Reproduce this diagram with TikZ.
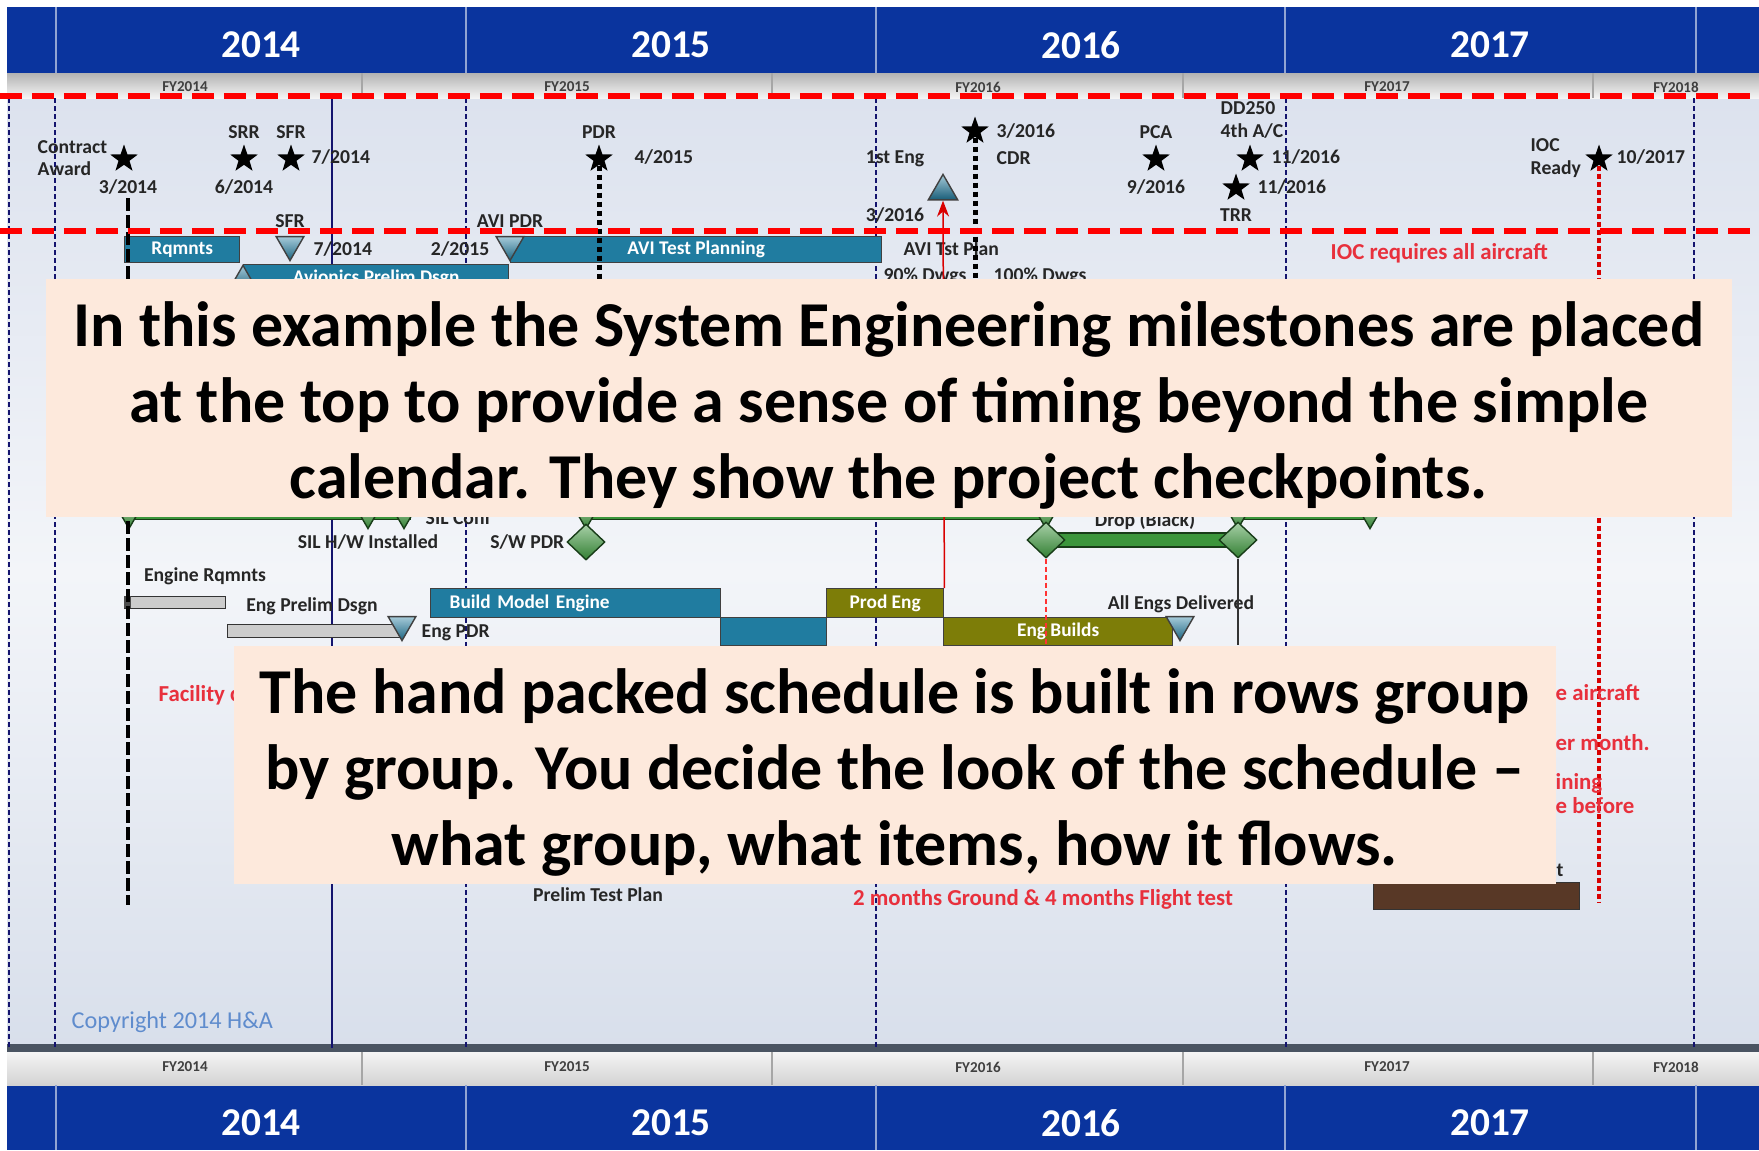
\documentclass[tikz,border=0pt]{standalone}
\usepackage{fontspec}
\setmainfont{Carlito}
\usetikzlibrary{shapes.geometric,arrows.meta,positioning}

\definecolor{plblue}{RGB}{10,52,158}
\definecolor{plnavy}{RGB}{20,20,110}
\definecolor{plteal}{RGB}{32,124,160}
\definecolor{plolive}{RGB}{125,125,8}
\definecolor{plgreen}{RGB}{60,150,60}
\definecolor{plbrown}{RGB}{88,56,38}
\definecolor{plpeach}{RGB}{253,233,220}
\definecolor{plred}{RGB}{232,48,60}
\definecolor{plcopy}{RGB}{95,140,205}
\definecolor{plbgtop}{RGB}{220,226,238}
\definecolor{plbgmid}{RGB}{243,245,249}
\definecolor{plbgbot}{RGB}{216,223,235}
\definecolor{plbar}{RGB}{74,84,98}

\tikzset{
  lbl/.style={font=\fontsize{5.6}{6.4}\selectfont\bfseries, text=black!85, inner sep=0.3mm},
  redlbl/.style={font=\fontsize{6.5}{7}\selectfont\bfseries, text=plred, inner sep=0.3mm},
  yearlbl/.style={font=\fontsize{11.2}{12}\selectfont\bfseries, text=white},
  fylbl/.style={font=\fontsize{4.3}{5}\selectfont\bfseries, text=black!75},
  copylbl/.style={font=\fontsize{6.9}{8}\selectfont, text=plcopy, inner sep=0pt},
  msstar/.style={star, star points=5, star point ratio=2.5, fill=black, minimum size=2.9mm, inner sep=0pt},
  tridown/.style={regular polygon, regular polygon sides=3, shape border rotate=180, minimum size=3.2mm, inner sep=0pt, anchor=corner 1, draw=black!75, top color=plteal!40!white, bottom color=plteal!80!black},
  triup/.style={regular polygon, regular polygon sides=3, minimum size=3.4mm, inner sep=0pt, anchor=corner 1, draw=black!75, top color=plteal!40!white, bottom color=plteal!75!black},
  grtri/.style={regular polygon, regular polygon sides=3, shape border rotate=180, minimum size=3.2mm, inner sep=0pt, anchor=corner 1, draw=plgreen!40!black, top color=plgreen!50!white, bottom color=plgreen!85!black},
  grdiamond/.style={diamond, minimum width=3.8mm, minimum height=3.6mm, inner sep=0pt, draw=plgreen!40!black, top color=plgreen!45!white, bottom color=plgreen!85!black},
  tealbar/.style={draw=black!75, fill=plteal, text=white, font=\fontsize{5.5}{6}\selectfont\bfseries, inner sep=0pt, anchor=north west},
  olivebar/.style={draw=black!75, fill=plolive, text=white, font=\fontsize{5.5}{6}\selectfont\bfseries, inner sep=0pt, anchor=north west},
  greybar/.style={draw=black!80, fill=gray!40, inner sep=0pt, anchor=north west},
  greenbar/.style={draw=plgreen!40!black, fill=plgreen, inner sep=0pt},
  brownbar/.style={draw=black!80, fill=plbrown, inner sep=0pt, anchor=north west},
  notebox/.style={fill=plpeach, inner sep=0pt, anchor=north west},
  notetext/.style={align=center, inner sep=0pt, font=\fontsize{18.2}{21.6}\selectfont\bfseries},
  navygrid/.style={draw=plnavy, line width=0.28mm, dash pattern=on 0.5mm off 0.3mm},
  navysolid/.style={draw=plnavy, line width=0.16mm},
  redframe/.style={draw=red, line width=0.6mm, dash pattern=on 2.2mm off 1mm},
  awardline/.style={draw=black, line width=0.45mm, dash pattern=on 1.3mm off 0.4mm},
  sedots/.style={draw=black, line width=0.5mm, dash pattern=on 0.5mm off 0.4mm},
  iocline/.style={draw=red!85!black, line width=0.45mm, dash pattern=on 0.5mm off 0.3mm},
  redarrow/.style={draw=red!85!black, line width=0.15mm, -{Stealth[length=1.6mm,width=1.2mm]}},
  reddash/.style={draw=red!80, line width=0.12mm, dash pattern=on 0.5mm off 0.3mm}
}

\begin{document}
\begin{tikzpicture}[x=0.1mm,y=-0.1mm]
	\useasboundingbox (0,0) rectangle (1759,1150);

	% background and calendar bands
	\fill[white] (0,0) rectangle (1759,1150);
	\shade[top color=plbgtop, bottom color=plbgbot, middle color=plbgmid] (7,98) rectangle (1759,1048);
	\fill[plblue] (7,7) rectangle (1759,73);
	\fill[plblue] (7,1085) rectangle (1759,1150);
	\shade[top color=gray!60, bottom color=gray!8] (7,73) rectangle (1759,98);
	\fill[plbar] (7,1044) rectangle (1759,1052);
	\shade[top color=gray!8, bottom color=gray!35] (7,1052) rectangle (1759,1085);

	\draw[plblue!45!white] (56,7) -- (56,73) (466,7) -- (466,73) (876,7) -- (876,73) (1285,7) -- (1285,73) (1696,7) -- (1696,73);
	\draw[plblue!45!white] (56,1085) -- (56,1150) (466,1085) -- (466,1150) (876,1085) -- (876,1150) (1285,1085) -- (1285,1150) (1696,1085) -- (1696,1150);
	\draw[gray!70] (362,73) -- (362,98) (772,73) -- (772,98) (1183,73) -- (1183,98) (1593,73) -- (1593,98);
	\draw[gray!70] (362,1052) -- (362,1085) (772,1052) -- (772,1085) (1183,1052) -- (1183,1085) (1593,1052) -- (1593,1085);

	\node[yearlbl] (yr14) at (261,45) {2014};
	\node[yearlbl] (yr15) at (671,45) {2015};
	\node[yearlbl] (yr16) at (1081,45) {2016};
	\node[yearlbl] (yr17) at (1490,45) {2017};
	\node[yearlbl] (yb14) at (261,1123) {2014};
	\node[yearlbl] (yb15) at (671,1123) {2015};
	\node[yearlbl] (yb16) at (1081,1123) {2016};
	\node[yearlbl] (yb17) at (1490,1123) {2017};

	\node[fylbl] (fy14) at (185,87) {FY2014};
	\node[fylbl] (fy15) at (567,87) {FY2015};
	\node[fylbl] (fy16) at (978,87) {FY2016};
	\node[fylbl] (fy17) at (1387,87) {FY2017};
	\node[fylbl] (fy18) at (1676,87) {FY2018};
	\node[fylbl] (fb14) at (185,1067) {FY2014};
	\node[fylbl] (fb15) at (567,1067) {FY2015};
	\node[fylbl] (fb16) at (978,1067) {FY2016};
	\node[fylbl] (fb17) at (1387,1067) {FY2017};
	\node[fylbl] (fb18) at (1676,1067) {FY2018};

	% grid lines
	\draw[navygrid] (9,98) -- (9,1048);
	\draw[navygrid] (55,98) -- (55,1048);
	\draw[navysolid] (332,98) -- (332,1048);
	\draw[navygrid] (466,98) -- (466,1048);
	\draw[navygrid] (876,98) -- (876,1048);
	\draw[navygrid] (1286,98) -- (1286,1048);
	\draw[navygrid] (1694,98) -- (1694,1048);

	% system engineering milestones
	\node[msstar] (caward) at (124,159) {};
	\node[lbl, align=left, anchor=west] (catext) at (34,158) {Contract\\Award};
	\node[lbl] (cadate) at (128,187) {3/2014};

	\node[msstar] (srr) at (244,159) {};
	\node[lbl] (srrname) at (244,132) {SRR};
	\node[lbl] (srrdate) at (244,187) {6/2014};

	\node[msstar] (sfr) at (291,159) {};
	\node[lbl] (sfrname) at (291,132) {SFR};
	\node[lbl, anchor=west] (sfrdate) at (308,157) {7/2014};

	\node[msstar] (pdr) at (599,159) {};
	\node[lbl] (pdrname) at (599,132) {PDR};
	\node[lbl, anchor=west] (pdrdate) at (631,157) {4/2015};

	\node[msstar] (cdr) at (975,131) {};
	\node[lbl, anchor=west] (cdrdate) at (993,131) {3/2016};
	\node[lbl, anchor=west] (cdrname) at (993,158) {CDR};

	\node[msstar] (pca) at (1156,159) {};
	\node[lbl] (pcaname) at (1156,132) {PCA};
	\node[lbl] (pcadate) at (1156,187) {9/2016};

	\node[msstar] (dd250) at (1250,159) {};
	\node[lbl, align=left, anchor=west] (ddname) at (1217,120) {DD250\\4th A/C};
	\node[lbl, anchor=west] (dddate) at (1268,157) {11/2016};

	\node[msstar] (trr) at (1236,188) {};
	\node[lbl, anchor=west] (trrdate) at (1254,187) {11/2016};
	\node[lbl] (trrname) at (1236,215) {TRR};

	\node[msstar] (ioc) at (1599,159) {};
	\node[lbl, align=left, anchor=west] (iocname) at (1527,158) {IOC\\Ready};
	\node[lbl, anchor=west] (iocdate) at (1613,157) {10/2017};

	\node[triup] (firsteng) at (943,173) {};
	\node[lbl] (fename) at (895,159) {1st Eng};
	\node[lbl] (fedate) at (895,215) {3/2016};

	% avionics rows
	\node[tealbar, minimum width=11.5mm, minimum height=2.6mm] (rqmnts) at (124,236) {Rqmnts};
	\node[tridown] (sfrtri) at (290,262) {};
	\node[lbl] (sfrtriname) at (290,221) {SFR};
	\node[lbl, anchor=west] (sfrtridate) at (310,249) {7/2014};
	\node[lbl, anchor=east] (avipdrdate) at (493,249) {2/2015};
	\node[tealbar, minimum width=37.1mm, minimum height=2.6mm] (avitest) at (510,236) {AVI Test Planning};
	\node[tridown] (avipdr) at (510,262) {};
	\node[lbl] (avipdrname) at (510,221) {AVI PDR};
	\node[lbl, anchor=west] (avitst) at (900,249) {AVI Tst Plan};
	\node[redlbl, anchor=west] (iocreq) at (1327,253) {IOC requires all aircraft};
	\node[tealbar, minimum width=26.5mm, minimum height=2.8mm] (avprelim) at (243,264) {Avionics Prelim Dsgn};
	\node[triup] (avtri) at (243,264) {};
	\node[lbl, anchor=west] (dwg90) at (880,276) {90\% Dwgs};
	\node[lbl, anchor=west] (dwg100) at (990,276) {100\% Dwgs};

	% software rows
	\node[greenbar, minimum width=28.1mm, minimum height=1.9mm, anchor=north west] (gbar1) at (129,500) {};
	\node[greenbar, minimum width=46.5mm, minimum height=1.9mm, anchor=north west] (gbar2) at (584,500) {};
	\node[greenbar, minimum width=13.3mm, minimum height=1.9mm, anchor=north west] (gbar3) at (1238,500) {};
	\node[grtri] (silstart) at (129,530) {};
	\node[grtri] (silhw) at (368,530) {};
	\node[grtri] (silconf) at (404,530) {};
	\node[grtri] (swpdrtri) at (586,530) {};
	\node[grtri] (dropl) at (1046,530) {};
	\node[grtri] (dropr) at (1238,530) {};
	\node[grtri] (grend) at (1370,530) {};
	\node[lbl, inner sep=0pt, anchor=west] (silconftxt) at (425,518) {SIL Conf};
	\node[lbl, inner sep=0pt] (droptxt) at (1145,521) {Drop (Black)};

	\node[lbl] (silhwtxt) at (368,542) {SIL H/W Installed};
	\node[lbl, anchor=east] (swpdrtxt) at (568,542) {S/W PDR};
	\node[grdiamond] (swpdr) at (586,542) {};
	\node[greenbar, minimum width=19.2mm, minimum height=1.4mm, anchor=west] (engbar) at (1046,540) {};
	\node[grdiamond] (dgl) at (1046,540) {};
	\node[grdiamond] (dgr) at (1238,540) {};

	% engine rows
	\node[lbl] (engrqtxt) at (205,576) {Engine Rqmnts};
	\node[greybar, minimum width=10.1mm, minimum height=1.2mm] (engrq) at (124,596) {};
	\fill[black!70] (124,596) rectangle (131,608);
	\node[lbl] (engprtxt) at (312,606) {Eng Prelim Dsgn};
	\node[greybar, minimum width=17.5mm, minimum height=1.3mm] (engpr) at (227,624) {};
	\node[tridown] (engpdr) at (402,642) {};
	\node[lbl, anchor=west] (engpdrtxt) at (418,633) {Eng PDR};
	\node[tealbar, minimum height=2.9mm, text width=25.2mm, inner xsep=1.9mm, align=left] (bme) at (430,588) {Build Model Engine};
	\node[tealbar, minimum width=10.6mm, minimum height=2.8mm] (bme2) at (720,617) {};
	\node[olivebar, minimum width=11.7mm, minimum height=2.9mm] (prodeng) at (826,588) {Prod Eng};
	\node[olivebar, minimum width=22.9mm, minimum height=2.8mm] (engbuilds) at (943,617) {Eng Builds};
	\node[tridown] (alldel) at (1180,642) {};
	\node[lbl] (alldeltxt) at (1181,604) {All Engs Delivered};

	\coordinate (caend) at (129,905);
	\coordinate (sedotend) at (0,300);
	\coordinate (iocend) at (0,902);
	\coordinate (rowend) at (0,645);
	\draw[awardline] (cadate.south) -- (cadate.south |- caend);
	\draw[sedots] (pdr.south) -- (pdr.south |- sedotend);
	\draw[sedots] (cdr.south) -- (cdr.south |- sedotend);
	\draw[iocline] (ioc.south) -- (ioc.south |- iocend);
	\draw[redarrow] (prodeng.north east) -- (firsteng.south);
	\draw[reddash] (dgl.south) -- (dgl.south |- rowend);
	\draw[black!80] (dgr.south) -- (dgr.south |- rowend);

	% test rows
	\node[redlbl, anchor=west] (facility) at (155,695) {Facility c};
	\node[redlbl, anchor=west] (iocr1) at (1552,693) {e aircraft};
	\node[redlbl, anchor=west] (iocr2) at (1552,743) {er month.};
	\node[redlbl, anchor=west] (iocr3) at (1552,783) {ining};
	\node[redlbl, anchor=west] (iocr4) at (1552,806) {e before};
	\node[lbl, anchor=west] (ttxt) at (1553,870) {t};
	\node[brownbar, minimum width=20.6mm, minimum height=2.7mm] (brown) at (1373,882) {};
	\node[lbl] (prelimtp) at (598,895) {Prelim Test Plan};
	\node[redlbl] (gftest) at (1043,899) {2 months Ground \& 4 months Flight test};
	\node[copylbl, anchor=west] (copyright) at (71,1022) {Copyright 2014 H\&A};

	% call-outs
	\node[notebox, minimum width=168.6mm, minimum height=23.8mm] (topnote) at (45,278) {};
	\node[notetext, yshift=-0.8mm] (topnotetext) at (topnote.center) {In this example the System Engineering milestones are placed\\at the top to provide a sense of timing beyond the simple\\calendar. They show the project checkpoints.};
	\node[notebox, minimum width=132.2mm, minimum height=23.8mm] (botnote) at (233,645) {};
	\node[notetext, yshift=-0.8mm] (botnotetext) at (botnote.center) {The hand packed schedule is built in rows group\\by group. You decide the look of the schedule \textendash\\what group, what items, how it flows.};

	\draw[redframe] (0,96) -- (1759,96);
	\draw[redframe] (0,231) -- (1759,231);
\end{tikzpicture}
\end{document}
